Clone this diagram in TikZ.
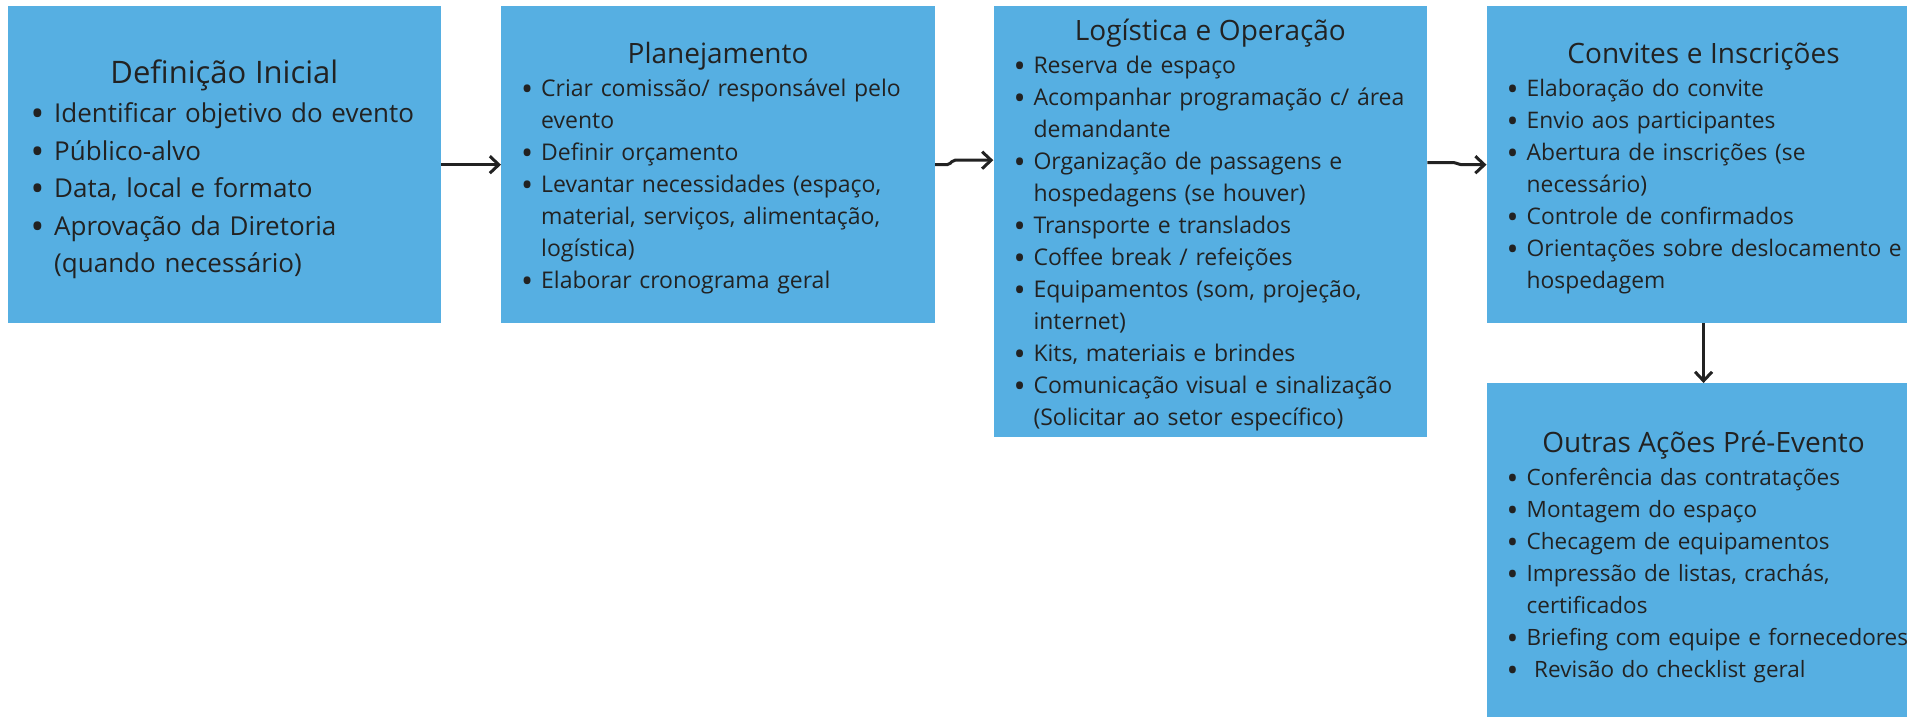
\documentclass[tikz,border=0pt]{standalone}
\usepackage{fontspec}
\usepackage{graphicx}
\setmainfont{Open Sans}
\usetikzlibrary{arrows.meta}

\definecolor{caixa}{HTML}{56AFE2}
\definecolor{tinta}{HTML}{222222}

\newcommand{\titulo}[2][28]{\noindent\makebox[\hsize]{\rule{0pt}{\folga}\fontsize{#1}{#1}\selectfont #2}\par\vspace{1.5pt}}
\newcommand{\ponto}[1]{\par\noindent\mbox{\makebox[\recuo][l]{\hspace{\bolinha}\raisebox{-0.17em}{\scalebox{1.4}{\textbullet}}}#1}}
\newcommand{\segue}[1]{\par\noindent\mbox{\hspace{\recuo}#1}}

\tikzset{
  etapa/.style={fill=caixa, text=tinta, anchor=north west, inner xsep=20pt, inner ysep=0pt,
    text width=393.7pt, minimum width=433.7pt, font=\fontsize{23}{32}\selectfont,
    execute at begin node={\def\recuo{20pt}\def\bolinha{0pt}\def\folga{28.5pt}}},
  etapagrande/.style={etapa, font=\fontsize{26}{37.5}\selectfont,
    execute at begin node={\def\recuo{26.7pt}\def\bolinha{3pt}\def\folga{33pt}}},
  seta/.style={-{Straight Barb[length=9pt,width=17pt]}, line width=3pt, draw=tinta}
}

\begin{document}
\begin{tikzpicture}[x=1pt, y=-1pt]
    \path [use as bounding box, clip] (0,0) rectangle (1907,717);

    \node (defi) at (7.3,6.3) [etapagrande, minimum height=316.4pt] {%
      \titulo[31]{Definição Inicial}
      \ponto{Identificar objetivo do evento}
      \ponto{Público-alvo}
      \ponto{Data, local e formato}
      \ponto{Aprovação da Diretoria}
      \segue{(quando necessário)}};
    \node (plan) at (501,6.3) [etapa, minimum height=316.4pt] {%
      \titulo{Planejamento}
      \ponto{Criar comissão/ responsável pelo}
      \segue{evento}
      \ponto{Definir orçamento}
      \ponto{Levantar necessidades (espaço,}
      \segue{material, serviços, alimentação,}
      \segue{logística)}
      \ponto{Elaborar cronograma geral}};
    \node (logi) at (993.3,6.3) [etapa, minimum height=430.4pt, execute at begin node={\def\folga{28pt}}] {%
      \titulo{Logística e Operação}
      \ponto{Reserva de espaço}
      \ponto{Acompanhar programação c/ área}
      \segue{demandante}
      \ponto{Organização de passagens e}
      \segue{hospedagens (se houver)}
      \ponto{Transporte e translados}
      \ponto{Coffee break / refeições}
      \ponto{Equipamentos (som, projeção,}
      \segue{internet)}
      \ponto{Kits, materiais e brindes}
      \ponto{Comunicação visual e sinalização}
      \segue{(Solicitar ao setor específico)}};
    \node (conv) at (1486.5,6.3) [etapa, minimum height=316.4pt, font=\fontsize{22.8}{32}\selectfont] {%
      \titulo{Convites e Inscrições}
      \ponto{Elaboração do convite}
      \ponto{Envio aos participantes}
      \ponto{Abertura de inscrições (se}
      \segue{necessário)}
      \ponto{Controle de confirmados}
      \ponto{Orientações sobre deslocamento e}
      \segue{hospedagem}};
    \node (pre) at (1486.5,383) [etapa, minimum height=348pt, font=\fontsize{22.5}{32}\selectfont, execute at begin node={\def\folga{0pt}}] {%
      \titulo{Outras Ações Pré-Evento}
      \ponto{Conferência das contratações}
      \ponto{Montagem do espaço}
      \ponto{Checagem de equipamentos}
      \ponto{Impressão de listas, crachás,}
      \segue{certificados}
      \ponto{Briefing com equipe e fornecedores}
      \ponto{\ Revisão do checklist geral}};

    \draw [seta] (defi.east) -- (plan.west);
    \draw [seta, rounded corners=2pt] (plan.east) -- ++(14,0) -- ++(4,-4.5) -- ([yshift=4.5pt]plan.east -| logi.west);
    \draw [seta, rounded corners=2pt] ([yshift=2.2pt]conv.west -| logi.east) -- ++(28,0) -- ++(4,2.2) -- (conv.west);
    \draw [seta] (conv.south) -- (pre.north);
\end{tikzpicture}
\end{document}
